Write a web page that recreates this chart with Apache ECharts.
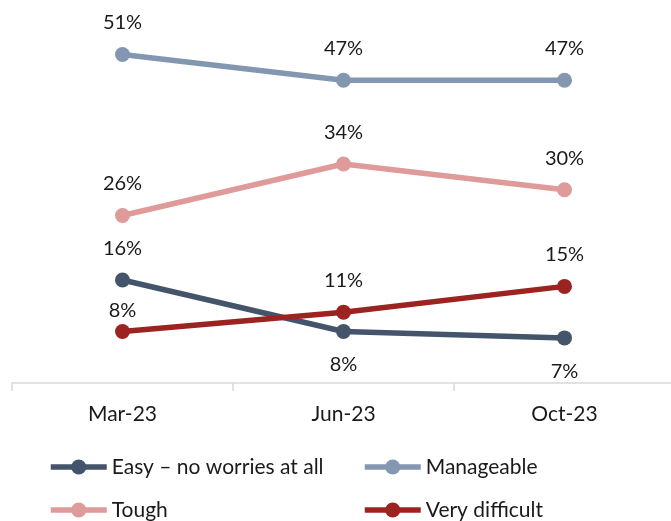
<!DOCTYPE html>
<html>
<head>
<meta charset="utf-8">
<script src="https://cdn.jsdelivr.net/npm/echarts@6/dist/echarts.min.js"></script>
<style>html,body{margin:0;padding:0;background:#fff}#c{width:671px;height:521px}</style>
</head>
<body>
<div id="c"></div>
<script>
var categories = ['Mar-23', 'Jun-23', 'Oct-23'];
var seriesNames = ['Easy – no worries at all', 'Manageable', 'Tough', 'Very difficult'];
var easy = [16, 8, 7];
var manageable = [51, 47, 47];
var tough = [26, 34, 30];
var veryDifficult = [8, 11, 15];

var colors = ['#44546A', '#8497B0', '#DF9A9A', '#9C2420'];
var FONT = 'Lato';

function mkSeries(name, vals, color, labelPos) {
  return {
    name: name,
    type: 'line',
    data: vals.map(function (v, i) {
      var item = { value: v };
      var pos = labelPos[i];
      item.label = { position: pos.p, distance: pos.d };
      return item;
    }),
    symbol: 'circle',
    symbolSize: 15,
    lineStyle: { width: 5.5, color: color },
    itemStyle: { color: color },
    label: {
      show: true,
      formatter: '{c}%',
      fontFamily: FONT,
      fontSize: 20,
      color: '#1a1a1a'
    },
    z: 2
  };
}

var T = { p: 'top', d: 14 };
var B = { p: 'bottom', d: 16 };

var legendCommon = {
  orient: 'vertical',
  top: 456,
  height: 80,
  padding: 0,
  itemWidth: 56, itemHeight: 19, itemGap: 21,
  lineStyle: { width: 5.5 },
  textStyle: { fontFamily: FONT, fontSize: 21, color: '#1a1a1a', lineHeight: 22 }
};

var chart = echarts.init(document.getElementById('c'), null, { renderer: 'canvas' });
chart.setOption({
  animation: false,
  grid: { left: 12, width: 663, top: 3, bottom: 138, outerBoundsMode: 'none', containLabel: false },
  xAxis: {
    type: 'category',
    data: categories,
    boundaryGap: true,
    axisLine: { lineStyle: { color: '#D9D9D9', width: 1.5 } },
    axisTick: { show: true, length: 8, lineStyle: { color: '#D9D9D9', width: 1.5 } },
    axisLabel: { fontFamily: FONT, fontSize: 21, color: '#1a1a1a', margin: 21 }
  },
  yAxis: {
    type: 'value', min: 0, max: 59, show: false,
    splitLine: { show: false }
  },
  legend: [
    Object.assign({}, legendCommon, { left: 48, data: [seriesNames[0], seriesNames[2]] }),
    Object.assign({}, legendCommon, { left: 362, data: [seriesNames[1], seriesNames[3]] })
  ],
  series: [
    mkSeries(seriesNames[0], easy, colors[0], [T, B, B]),
    mkSeries(seriesNames[1], manageable, colors[1], [T, T, T]),
    mkSeries(seriesNames[2], tough, colors[2], [T, T, T]),
    mkSeries(seriesNames[3], veryDifficult, colors[3], [{ p: 'top', d: 3 }, T, T])
  ]
});
</script>
</body>
</html>
